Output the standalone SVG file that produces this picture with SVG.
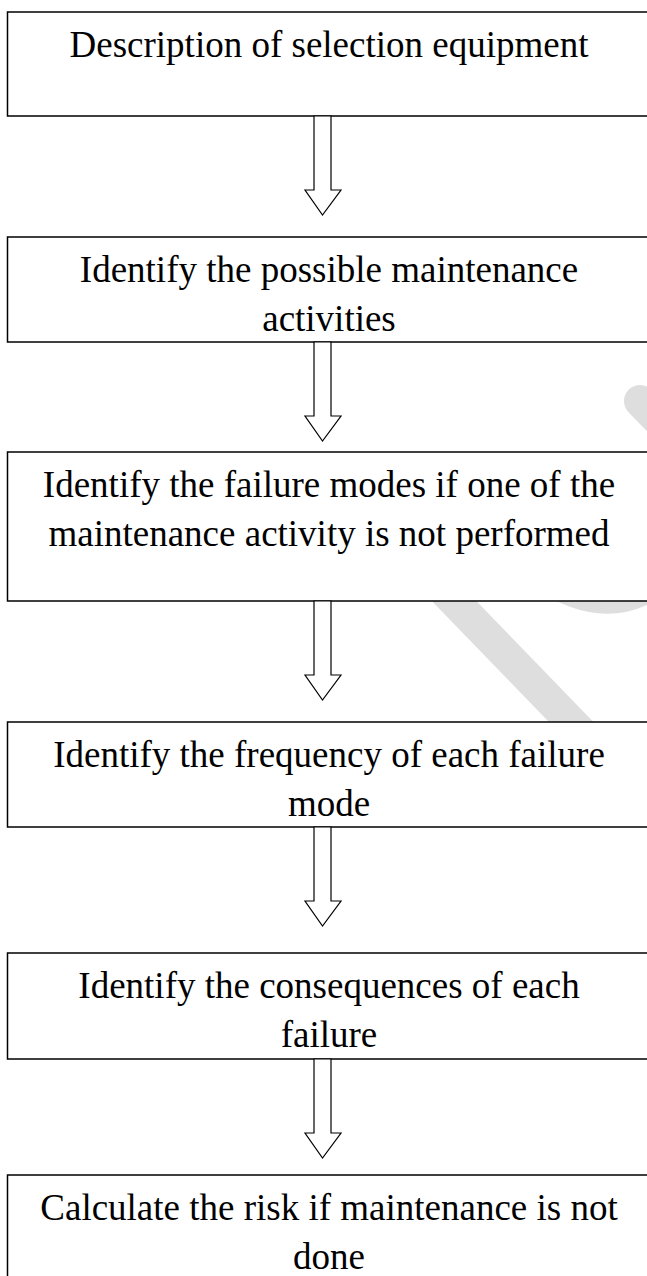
<svg xmlns="http://www.w3.org/2000/svg" width="647" height="1276" viewBox="0 0 647 1276">
  <style>
    .box { fill: #ffffff; stroke: #000000; stroke-width: 1.5; }
    .label { font-family: "Liberation Serif", "Times New Roman", serif; font-size: 37px; fill: #000000; text-anchor: middle; }
    .arrow { fill: #ffffff; stroke: #000000; stroke-width: 1.2; stroke-linejoin: miter; }
    .mark { fill: none; stroke: #dedede; stroke-width: 32; stroke-linecap: round; }
  </style>

  <rect x="0" y="0" width="647" height="1276" fill="#ffffff"/>

  <!-- faint background watermark strokes, partly hidden behind the boxes -->
  <g id="watermark">
    <line class="mark" x1="330" y1="473" x2="700" y2="855"/>
    <line class="mark" x1="640" y1="401" x2="700" y2="463"/>
    <path d="M 530 585 Q 600 635 660 598 L 660 580 Z" fill="#dedede"/>
  </g>

  <g id="step1">
    <rect class="box" x="7.5" y="12" width="660" height="104"/>
    <text class="label" x="329" y="57">Description of selection equipment</text>
  </g>

  <g id="step2">
    <rect class="box" x="7.5" y="237" width="660" height="105"/>
    <text class="label" x="329" y="282">Identify the possible maintenance</text>
    <text class="label" x="329" y="331">activities</text>
  </g>

  <g id="step3">
    <rect class="box" x="7.5" y="452" width="660" height="149"/>
    <text class="label" x="329" y="497">Identify the failure modes if one of the</text>
    <text class="label" x="329" y="546">maintenance activity is not performed</text>
  </g>

  <g id="step4">
    <rect class="box" x="7.5" y="722" width="660" height="105"/>
    <text class="label" x="329" y="767">Identify the frequency of each failure</text>
    <text class="label" x="329" y="816">mode</text>
  </g>

  <g id="step5">
    <rect class="box" x="7.5" y="953" width="660" height="106"/>
    <text class="label" x="329" y="998">Identify the consequences of each</text>
    <text class="label" x="329" y="1047">failure</text>
  </g>

  <g id="step6">
    <rect class="box" x="7.5" y="1175" width="660" height="120"/>
    <text class="label" x="329" y="1220">Calculate the risk if maintenance is not</text>
    <text class="label" x="329" y="1269">done</text>
  </g>

  <!-- hollow block arrows between consecutive steps -->
  <g id="connectors">
    <path class="arrow" d="M 314 116 L 331 116 L 331 190 L 341 190 L 322.5 215 L 305 190 L 314 190 Z"/>
    <path class="arrow" d="M 314 342 L 331 342 L 331 416 L 341 416 L 322.5 441 L 305 416 L 314 416 Z"/>
    <path class="arrow" d="M 314 601 L 331 601 L 331 675 L 341 675 L 322.5 700 L 305 675 L 314 675 Z"/>
    <path class="arrow" d="M 314 827 L 331 827 L 331 901 L 341 901 L 322.5 926 L 305 901 L 314 901 Z"/>
    <path class="arrow" d="M 314 1059 L 331 1059 L 331 1133 L 341 1133 L 322.5 1158 L 305 1133 L 314 1133 Z"/>
  </g>
</svg>
